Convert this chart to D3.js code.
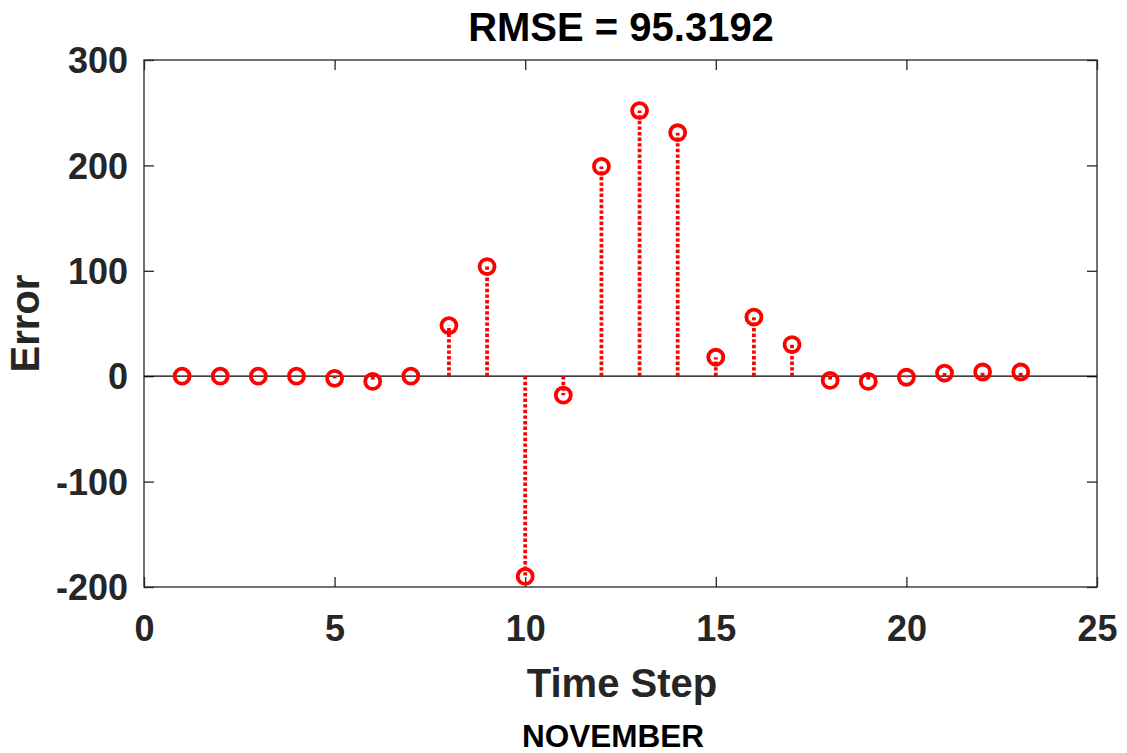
<!DOCTYPE html>
<html>
<head>
<meta charset="utf-8">
<script src="https://cdn.jsdelivr.net/npm/d3@7"></script>
<style>
  html, body { margin: 0; padding: 0; background: #fff; }
  svg { display: block; }
  text { font-family: "Liberation Sans", Arial, Helvetica, sans-serif; font-weight: bold; }
</style>
</head>
<body>
<svg id="chart" width="1127" height="753"></svg>
<script>
// Data
const timeSteps = [1,2,3,4,5,6,7,8,9,10,11,12,13,14,15,16,17,18,19,20,21,22,23];
const errors    = [0,0,0,0,-2,-5,0,48,104,-190,-18,199,252,231,18,56,30,-4,-5,-1,3,4,4];
const xTicks = [0,5,10,15,20,25];
const yTicks = [-200,-100,0,100,200,300];
const titleText = "RMSE = 95.3192";
const xLabelText = "Time Step";
const yLabelText = "Error";
const captionText = "NOVEMBER";

const W = 1127, H = 753;
const plot = {left: 144, top: 60, right: 1097, bottom: 587};
const axisColor = "#262626";

const svg = d3.select("#chart");

const x = d3.scaleLinear().domain([0, 25]).range([plot.left, plot.right]);
const y = d3.scaleLinear().domain([-200, 300]).range([plot.bottom, plot.top]);

// frame box
svg.append("rect")
  .attr("x", plot.left).attr("y", plot.top)
  .attr("width", plot.right - plot.left).attr("height", plot.bottom - plot.top)
  .attr("fill", "none").attr("stroke", axisColor).attr("stroke-width", 1.3);

// axes with inward ticks
const tickLen = 10;
const fmt = d => String(d);
const gx = svg.append("g").attr("transform", `translate(0,${plot.bottom})`)
  .call(d3.axisBottom(x).tickValues(xTicks).tickFormat(fmt).tickSizeInner(-tickLen).tickSizeOuter(0));
const gxTop = svg.append("g").attr("transform", `translate(0,${plot.top})`)
  .call(d3.axisTop(x).tickValues(xTicks).tickSizeInner(-tickLen).tickSizeOuter(0).tickFormat(""));
const gy = svg.append("g").attr("transform", `translate(${plot.left},0)`)
  .call(d3.axisLeft(y).tickValues(yTicks).tickFormat(fmt).tickSizeInner(-tickLen).tickSizeOuter(0).tickPadding(16));
const gyR = svg.append("g").attr("transform", `translate(${plot.right},0)`)
  .call(d3.axisRight(y).tickValues(yTicks).tickSizeInner(-tickLen).tickSizeOuter(0).tickFormat(""));

[gx, gxTop, gy, gyR].forEach(g => {
  g.select(".domain").remove();
  g.selectAll(".tick line").attr("stroke", axisColor).attr("stroke-width", 1.3);
  g.selectAll(".tick text")
    .attr("fill", axisColor)
    .style("font-size", "36px")
    .style("font-family", "'Liberation Sans', Arial, sans-serif")
    .style("font-weight", "bold");
});
gx.selectAll(".tick text").attr("dy", "0.71em").attr("y", 28);
gy.selectAll(".tick text").attr("dy", "0.35em");

// zero baseline
svg.append("line")
  .attr("x1", plot.left).attr("x2", plot.right)
  .attr("y1", y(0)).attr("y2", y(0))
  .attr("stroke", "#000").attr("stroke-width", 1.3);

const data = timeSteps.map((t, i) => ({t, v: errors[i]}));

// stems
svg.append("g").selectAll("line").data(data).join("line")
  .attr("x1", d => x(d.t)).attr("x2", d => x(d.t))
  .attr("y1", y(0)).attr("y2", d => y(d.v))
  .attr("stroke", "#ff0000").attr("stroke-width", 3.8)
  .attr("stroke-dasharray", "3.4,2.2");

// markers
svg.append("g").selectAll("circle").data(data).join("circle")
  .attr("cx", d => x(d.t)).attr("cy", d => y(d.v))
  .attr("r", 7.5)
  .attr("fill", "none").attr("stroke", "#ff0000").attr("stroke-width", 3.8);

// title
svg.append("text")
  .attr("x", 621).attr("y", 41)
  .attr("text-anchor", "middle")
  .attr("fill", "#000").style("font-size", "40px")
  .text(titleText);

// x label
svg.append("text")
  .attr("x", 622).attr("y", 697)
  .attr("text-anchor", "middle")
  .attr("fill", axisColor).style("font-size", "40px")
  .text(xLabelText);

// y label
svg.append("text")
  .attr("transform", `translate(25,${(plot.top + plot.bottom) / 2}) rotate(-90)`)
  .attr("text-anchor", "middle").attr("dy", "0.35em")
  .attr("fill", axisColor).style("font-size", "40px")
  .text(yLabelText);

// caption
svg.append("text")
  .attr("x", 613).attr("y", 747)
  .attr("text-anchor", "middle")
  .attr("fill", "#000").style("font-size", "31.5px")
  .text(captionText);
</script>
</body>
</html>
